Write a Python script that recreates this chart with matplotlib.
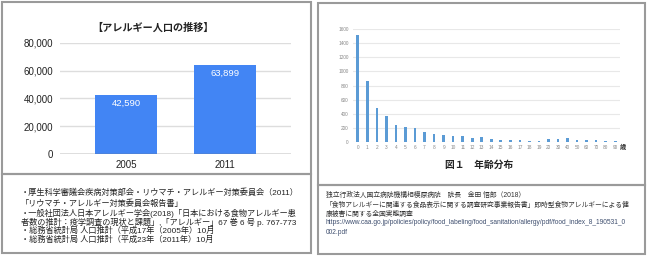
import matplotlib
matplotlib.use("Agg")
import matplotlib.pyplot as plt
from matplotlib.patches import Rectangle


# -------------------------------------------------
# Data
# -------------------------------------------------

YEARS = ["2005", "2011"]
ALLERGY_POP = [42590, 63899]

AGES = [str(a) for a in range(20)] + ["20", "30", "40", "50", "60", "70", "80", "90"]
AGE_COUNTS = [1520, 860, 480, 365, 240, 210, 190, 135, 110, 100,
              80, 75, 58, 60, 35, 25, 22, 18, 14, 5,
              35, 33, 55, 30, 20, 20, 8, 5]

LEFT_TITLE = "【アレルギー人口の推移】"
RIGHT_CAPTION = "図１　年齢分布"

LEFT_NOTES = [
    "・厚生科学審議会疾病対策部会・リウマチ・アレルギー対策委員会（2011）",
    "「リウマチ・アレルギー対策委員会報告書」",
    "・一般社団法人日本アレルギー学会(2018)「日本における食物アレルギー患",
    "者数の推計：疫学調査の現状と課題」,「アレルギー」67 巻 6 号 p. 767-773",
    "・総務省統計局 人口推計（平成17年（2005年）10月",
    "・総務省統計局 人口推計（平成23年（2011年）10月",
]

RIGHT_NOTES = [
    "独立行政法人国立病院機構相模原病院　院長　金田 悟郎（2018）",
    "「食物アレルギーに関連する食品表示に関する調査研究事業報告書」即時型食物アレルギーによる健",
    "康被害に関する全国実態調査",
    "https://www.caa.go.jp/policies/policy/food_labeling/food_sanitation/allergy/pdf/food_index_8_190531_0",
    "002.pdf",
]

W, H = 650, 257
FONTS = ["Liberation Sans", "Noto Sans CJK JP", "DejaVu Sans"]
plt.rcParams["font.family"] = FONTS


def fx(px):
    return px / W


def fy(py):
    return 1 - py / H


def box(fig, x0, y0, x1, y1):
    fig.patches.append(Rectangle(
        (fx(x0), fy(y1)), fx(x1 - x0), (y1 - y0) / H,
        transform=fig.transFigure, fill=False,
        edgecolor="#9a9a9a", linewidth=1.5
    ))


fig = plt.figure(figsize=(W / 100, H / 100), dpi=100)
fig.patch.set_facecolor("white")

# -------------------------------------------------
# Panel frames
# -------------------------------------------------

box(fig, 2, 2, 311, 174)
box(fig, 2, 174, 311, 253)
box(fig, 318, 3, 645, 185)
box(fig, 318, 185, 645, 254)

# -------------------------------------------------
# Left chart: allergy population
# -------------------------------------------------

ax1 = fig.add_axes([fx(60), fy(154), fx(231), (154 - 42.7) / H])
x1 = range(len(YEARS))
ax1.bar(x1, ALLERGY_POP, width=0.63, color="#4285F4", zorder=3)
ax1.set_xlim(-0.667, 1.667)
ax1.set_ylim(0, 80000)
ax1.set_yticks(range(0, 80001, 20000))
ax1.set_yticklabels([f"{v:,}" for v in range(0, 80001, 20000)])
ax1.set_xticks(list(x1))
ax1.set_xticklabels(YEARS)
ax1.grid(axis="y", color="#dddddd", linewidth=1, zorder=0)
ax1.axhline(0, color="#777777", linewidth=1, zorder=4)
for s in ax1.spines.values():
    s.set_visible(False)
ax1.tick_params(axis="both", length=0, labelsize=7, colors="#222222")
ax1.tick_params(axis="y", pad=5)
ax1.tick_params(axis="x", pad=4.5)
for i, v in enumerate(ALLERGY_POP):
    ax1.annotate(f"{v:,}", (i, v), xytext=(0, -6), textcoords="offset points",
                 ha="center", va="center", color="white", fontsize=6.8, zorder=5)

fig.text(fx(153), fy(28), LEFT_TITLE, ha="center", va="center",
         fontsize=7.3, fontweight="bold", color="#222222")

# -------------------------------------------------
# Right chart: age distribution
# -------------------------------------------------

ax2 = fig.add_axes([fx(353), fy(141.7), fx(267), (141.7 - 29.3) / H])
x2 = range(len(AGES))
ax2.bar(x2, AGE_COUNTS, width=0.28, color="#5B9BD5", zorder=3)
ax2.set_xlim(-0.5, len(AGES) - 0.5)
ax2.set_ylim(0, 1600)
ax2.set_yticks(range(0, 1601, 200))
ax2.set_xticks(list(x2))
ax2.set_xticklabels(AGES)
ax2.grid(axis="y", color="#e8e8e8", linewidth=0.8, zorder=0)
for s in ax2.spines.values():
    s.set_visible(False)
ax2.tick_params(axis="both", length=0, labelsize=3.4, colors="#888888")
ax2.tick_params(axis="y", pad=3)
ax2.tick_params(axis="x", pad=2.5)

fig.text(fx(620), fy(147), "歳", ha="left", va="center",
         fontsize=4.5, fontweight="bold", color="#333333")
fig.text(fx(479), fy(165), RIGHT_CAPTION, ha="center", va="center",
         fontsize=7, fontweight="bold", color="#222222")

# -------------------------------------------------
# Notes
# -------------------------------------------------

left_y = [192.7, 203.3, 213.3, 222.3, 231, 239.7]
for line, y in zip(LEFT_NOTES, left_y):
    fig.text(fx(21), fy(y), line, ha="left", va="center",
             fontsize=5.9, color="#222222")

right_y = [195, 205, 214.3, 222.7, 232.3]
for i, (line, y) in enumerate(zip(RIGHT_NOTES, right_y)):
    col = "#3f4f6f" if i >= 3 else "#333333"
    fig.text(fx(326), fy(y), line, ha="left", va="center",
             fontsize=4.9 if i < 3 else 4.8, color=col)

fig.savefig("out.png", dpi=100)
